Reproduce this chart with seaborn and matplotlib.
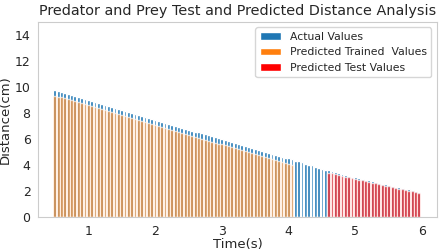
import numpy as np
import matplotlib
matplotlib.use("Agg")
import matplotlib.pyplot as plt
import seaborn as sns

# sampling times (s), one sample every 0.05 s
time_s = np.round(np.arange(0.5, 5.96, 0.05), 2)

# measured distance (cm)
actual = [
    9.75, 9.68, 9.62, 9.53, 9.47, 9.39, 9.32, 9.25, 9.17, 9.10,
    9.03, 8.95, 8.87, 8.80, 8.72, 8.64, 8.57, 8.48, 8.41, 8.33,
    8.25, 8.18, 8.10, 8.02, 7.95, 7.87, 7.79, 7.72, 7.63, 7.56,
    7.48, 7.41, 7.33, 7.25, 7.18, 7.10, 7.03, 6.95, 6.87, 6.80,
    6.72, 6.65, 6.57, 6.50, 6.42, 6.35, 6.27, 6.20, 6.12, 6.05,
    5.98, 5.90, 5.83, 5.75, 5.68, 5.61, 5.53, 5.46, 5.39, 5.32,
    5.25, 5.17, 5.10, 5.02, 4.95, 4.87, 4.80, 4.72, 4.65, 4.57,
    4.50, 4.42, 4.34, 4.27, 4.19, 4.11, 4.03, 3.96, 3.88, 3.80,
    3.72, 3.65, 3.58, 3.52, 3.45, 3.38, 3.31, 3.25, 3.18, 3.11,
    3.05, 2.99, 2.93, 2.87, 2.81, 2.75, 2.69, 2.63, 2.57, 2.51,
    2.45, 2.39, 2.34, 2.28, 2.23, 2.17, 2.12, 2.06, 2.01, 1.95,
]

# predictions on the training part (first 72 samples)
pred_train = [
    9.30, 9.25, 9.19, 9.12, 9.05, 8.98, 8.90, 8.83, 8.76, 8.68,
    8.61, 8.54, 8.46, 8.38, 8.31, 8.23, 8.16, 8.08, 8.00, 7.93,
    7.85, 7.77, 7.69, 7.62, 7.54, 7.46, 7.39, 7.31, 7.23, 7.15,
    7.08, 7.00, 6.93, 6.85, 6.77, 6.70, 6.62, 6.55, 6.47, 6.39,
    6.32, 6.25, 6.17, 6.10, 6.02, 5.95, 5.87, 5.80, 5.72, 5.65,
    5.58, 5.50, 5.43, 5.36, 5.28, 5.21, 5.14, 5.06, 4.99, 4.92,
    4.85, 4.77, 4.70, 4.62, 4.55, 4.47, 4.40, 4.33, 4.25, 4.18,
    4.11, 4.03,
]

# predictions on the test part (last 28 samples)
pred_test = [
    3.42, 3.36, 3.30, 3.23, 3.17, 3.11, 3.05, 2.98, 2.92, 2.87,
    2.81, 2.75, 2.69, 2.63, 2.58, 2.52, 2.46, 2.41, 2.35, 2.29,
    2.24, 2.18, 2.13, 2.08, 2.02, 1.97, 1.92, 1.86,
]

n_train = len(pred_train)
n_test = len(pred_test)

sns.set_style("whitegrid", {"axes.grid": False})
plt.rcParams["font.family"] = ["DejaVu Sans"]

fig = plt.figure(figsize=(4.44, 2.52), dpi=100)
ax = fig.add_axes([0.086, 0.139, 0.898, 0.774])

sns.barplot(x=time_s, y=actual, native_scale=True, width=0.85, color="#1f77b4",
            saturation=1, errorbar=None, label="Actual Values", ax=ax)
sns.barplot(x=time_s[:n_train], y=pred_train, native_scale=True, width=0.85,
            color="#ff7f0e", saturation=1, alpha=0.68, errorbar=None,
            label="Predicted Trained  Values", ax=ax)
sns.barplot(x=time_s[-n_test:], y=pred_test, native_scale=True, width=0.85,
            color="red", saturation=1, alpha=0.7, errorbar=None,
            label="Predicted Test Values", ax=ax)

ax.set_xlim(0.25, 6.22)
ax.set_ylim(0, 15)
ax.set_xticks([1, 2, 3, 4, 5, 6])
ax.set_xticklabels(["1", "2", "3", "4", "5", "6"])
ax.set_yticks(range(0, 15, 2))
ax.tick_params(labelsize=9, pad=2)
ax.set_xlabel("Time(s)", fontsize=9.5, labelpad=0)
ax.set_ylabel("Distance(cm)", fontsize=9.5, labelpad=2)
ax.set_title("Predator and Prey Test and Predicted Distance Analysis", fontsize=10.4, pad=5)
leg = ax.legend(loc="upper right", fontsize=7.8, frameon=True)
for h in leg.legend_handles:
    h.set_alpha(1)

fig.savefig("out.png", dpi=100)
